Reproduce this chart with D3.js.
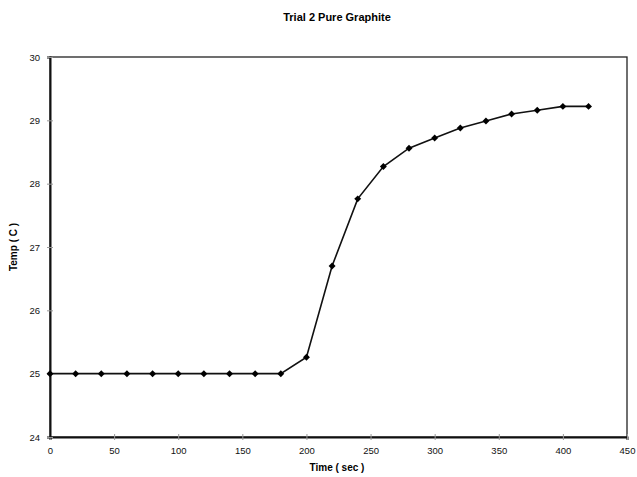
<!DOCTYPE html>
<html><head><meta charset="utf-8">
<script src="https://cdn.jsdelivr.net/npm/d3@7"></script>
<style>body{margin:0;background:#fff;} text{font-family:"Liberation Sans",Arial,sans-serif;}</style>
</head><body>
<svg id="c" width="637" height="477"></svg>
<script>
const times = [0,20,40,60,80,100,120,140,160,180,200,220,240,260,280,300,320,340,360,380,400,420];
const temps = [25,25,25,25,25,25,25,25,25,25,25.26,26.70,27.76,28.27,28.56,28.72,28.88,28.99,29.10,29.16,29.22,29.22];
const xTicks = [0,50,100,150,200,250,300,350,400,450];
const yTicks = [24,25,26,27,28,29,30];
const title = "Trial 2 Pure Graphite";
const xLabel = "Time ( sec )";
const yLabel = "Temp ( C )";

const svg = d3.select("#c");
const L=50, R=627, T=57, B=437;
const x = d3.scaleLinear().domain([0,450]).range([L,R]);
const y = d3.scaleLinear().domain([24,30]).range([B,T]);

svg.append("text").attr("x",337).attr("y",21).attr("text-anchor","middle")
  .attr("font-size",11).attr("font-weight","bold").text(title);

svg.append("rect").attr("x",L).attr("y",T).attr("width",R-L).attr("height",B-T)
  .attr("fill","none").attr("stroke","#222").attr("stroke-width",1.3);

const xa = svg.append("g").attr("transform",`translate(0,${B})`)
  .call(d3.axisBottom(x).tickValues(xTicks).tickFormat(d3.format("d")).tickSize(3).tickPadding(7));
const ya = svg.append("g").attr("transform",`translate(${L},0)`)
  .call(d3.axisLeft(y).tickValues(yTicks).tickFormat(d3.format("d")).tickSize(3).tickPadding(7));
[xa,ya].forEach(a=>{
  a.select(".domain").attr("stroke","#111").attr("stroke-width",2);
  a.selectAll(".tick line").attr("stroke","#999");
  a.selectAll("text").attr("font-size",9.5).attr("fill","#111").attr("font-family","Liberation Sans, Arial, sans-serif");
});
xa.selectAll(".tick line").attr("y1",-3);
ya.selectAll(".tick line").attr("x1",3);

svg.append("text").attr("x",337).attr("y",471).attr("text-anchor","middle")
  .attr("font-size",10).attr("font-weight","bold").text(xLabel);
svg.append("text").attr("transform","translate(17,247) rotate(-90)").attr("text-anchor","middle")
  .attr("font-size",10).attr("font-weight","bold").text(yLabel);

const data = times.map((t,i)=>({t, v:temps[i]}));
svg.append("path").datum(data)
  .attr("d", d3.line().x(d=>x(d.t)).y(d=>y(d.v)))
  .attr("fill","none").attr("stroke","#111").attr("stroke-width",1.6);
const diamond = {draw(ctx, size){ const r=Math.sqrt(size/2); ctx.moveTo(0,-r); ctx.lineTo(r,0); ctx.lineTo(0,r); ctx.lineTo(-r,0); ctx.closePath(); }};
svg.selectAll(".pt").data(data).enter().append("path")
  .attr("class","pt")
  .attr("transform",d=>`translate(${x(d.t)},${y(d.v)})`)
  .attr("d", d3.symbol().type(diamond).size(24))
  .attr("fill","#000");
</script>
</body></html>
